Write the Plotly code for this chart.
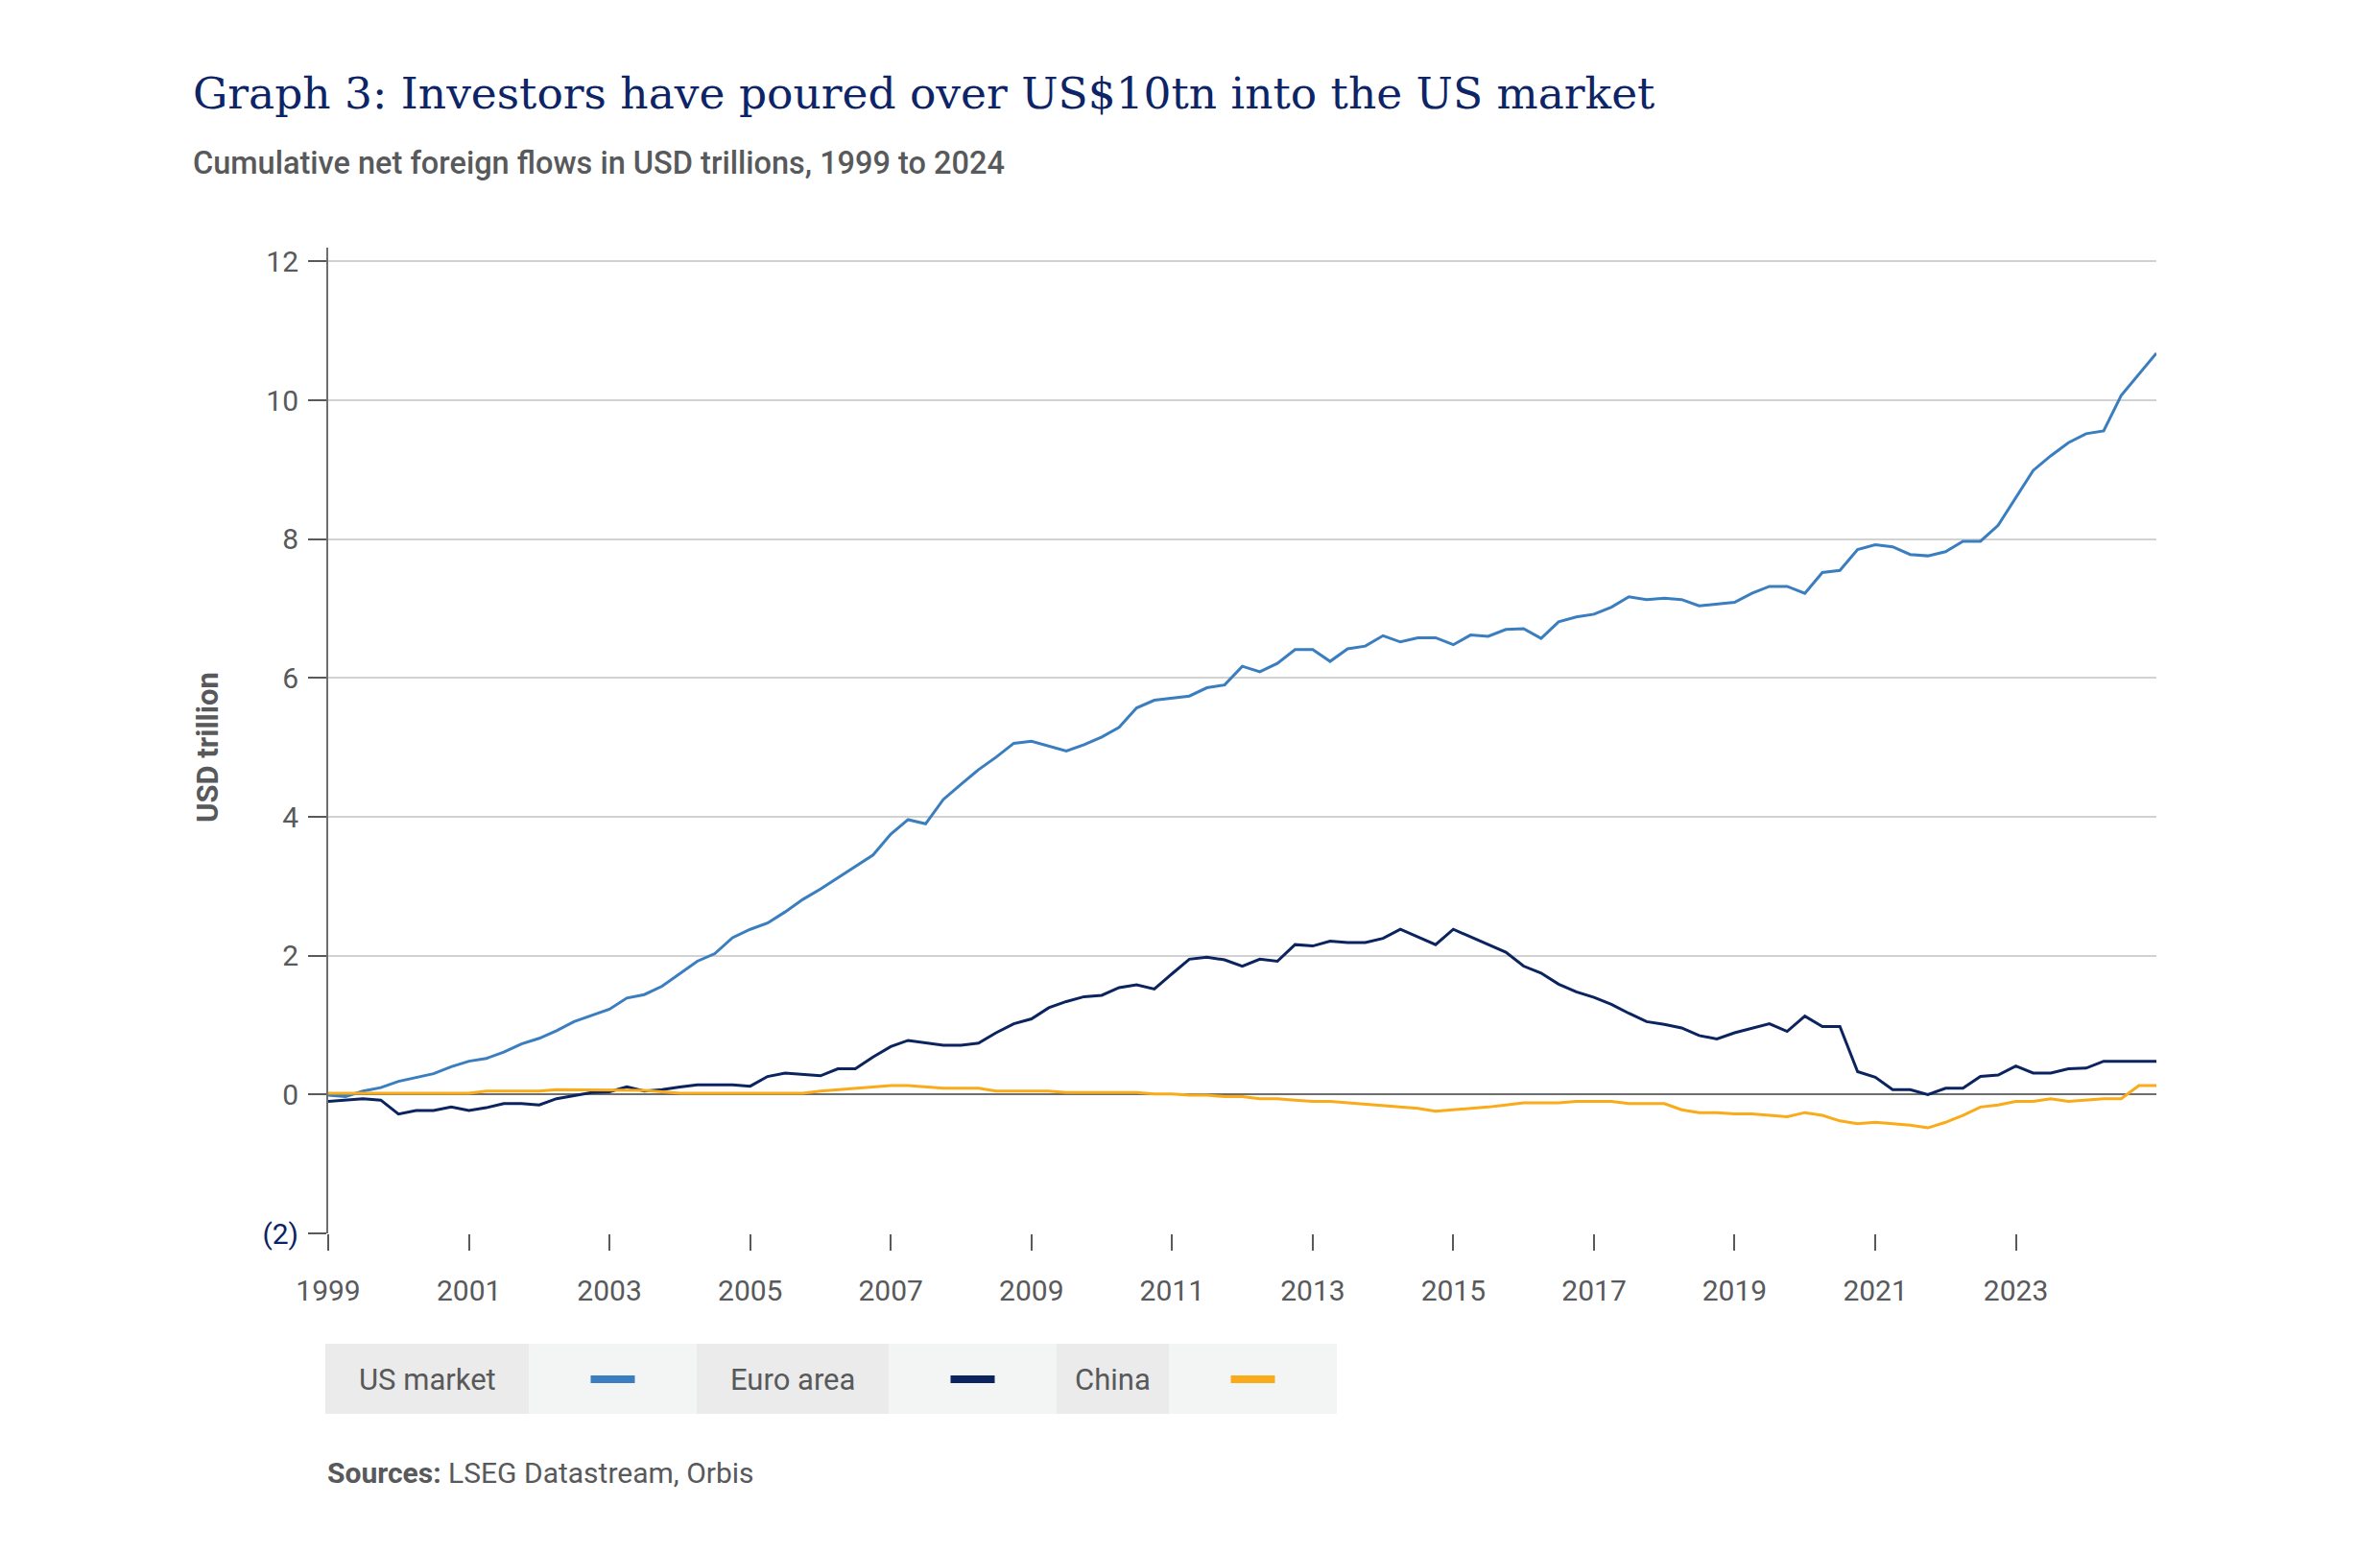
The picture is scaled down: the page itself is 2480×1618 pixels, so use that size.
import pandas as pd
import plotly.graph_objects as go

# quarterly observations, last point is end of 2024
dates = list(pd.date_range("1999-01-01", periods=104, freq="QS")) + [pd.Timestamp("2024-12-31")]

us_market = [-0.01, -0.03, 0.05, 0.10, 0.19, 0.24, 0.30, 0.40, 0.48, 0.52,
             0.61, 0.73, 0.81, 0.92, 1.05, 1.14, 1.23, 1.39, 1.44, 1.56,
             1.74, 1.92, 2.03, 2.26, 2.38, 2.47, 2.63, 2.81, 2.96, 3.12,
             3.29, 3.45, 3.75, 3.96, 3.90, 4.25, 4.47, 4.68, 4.86, 5.06,
             5.09, 5.02, 4.95, 5.04, 5.15, 5.29, 5.57, 5.68, 5.71, 5.74,
             5.86, 5.90, 6.17, 6.09, 6.21, 6.41, 6.41, 6.24, 6.42, 6.46,
             6.61, 6.52, 6.58, 6.58, 6.48, 6.62, 6.60, 6.70, 6.71, 6.57,
             6.81, 6.88, 6.92, 7.02, 7.17, 7.13, 7.15, 7.13, 7.04, 7.06,
             7.09, 7.22, 7.32, 7.32, 7.22, 7.52, 7.55, 7.85, 7.92, 7.89,
             7.78, 7.76, 7.82, 7.97, 7.97, 8.20, 8.59, 8.99, 9.20, 9.39,
             9.52, 9.56, 10.07, 10.37, 10.68]

euro_area = [-0.10, -0.08, -0.06, -0.08, -0.28, -0.23, -0.23, -0.18, -0.23, -0.19,
             -0.13, -0.13, -0.15, -0.06, -0.01, 0.03, 0.04, 0.11, 0.05, 0.07,
             0.11, 0.14, 0.14, 0.14, 0.12, 0.26, 0.31, 0.29, 0.27, 0.37,
             0.37, 0.54, 0.69, 0.78, 0.75, 0.71, 0.71, 0.74, 0.89, 1.02,
             1.09, 1.25, 1.34, 1.41, 1.43, 1.54, 1.58, 1.52, 1.74, 1.95,
             1.98, 1.94, 1.85, 1.95, 1.92, 2.16, 2.14, 2.21, 2.19, 2.19,
             2.25, 2.38, 2.27, 2.16, 2.38, 2.27, 2.16, 2.05, 1.85, 1.75,
             1.59, 1.48, 1.40, 1.30, 1.17, 1.05, 1.01, 0.96, 0.85, 0.80,
             0.89, 0.95, 1.02, 0.91, 1.13, 0.98, 0.98, 0.33, 0.25, 0.07,
             0.07, 0.00, 0.09, 0.09, 0.26, 0.28, 0.41, 0.31, 0.31, 0.37,
             0.38, 0.48, 0.48, 0.48, 0.48]

china = [0.02, 0.02, 0.02, 0.02, 0.02, 0.02, 0.02, 0.02, 0.02, 0.05,
         0.05, 0.05, 0.05, 0.07, 0.07, 0.07, 0.07, 0.07, 0.06, 0.04,
         0.02, 0.02, 0.02, 0.02, 0.02, 0.02, 0.02, 0.02, 0.05, 0.07,
         0.09, 0.11, 0.13, 0.13, 0.11, 0.09, 0.09, 0.09, 0.05, 0.05,
         0.05, 0.05, 0.03, 0.03, 0.03, 0.03, 0.03, 0.01, 0.01, -0.01,
         -0.01, -0.03, -0.03, -0.06, -0.06, -0.08, -0.10, -0.10, -0.12, -0.14,
         -0.16, -0.18, -0.20, -0.24, -0.22, -0.19, -0.18, -0.15, -0.12, -0.12,
         -0.12, -0.10, -0.10, -0.10, -0.13, -0.13, -0.13, -0.22, -0.26, -0.26,
         -0.28, -0.28, -0.30, -0.32, -0.26, -0.30, -0.38, -0.42, -0.40, -0.42,
         -0.44, -0.48, -0.40, -0.30, -0.18, -0.15, -0.10, -0.10, -0.06, -0.10,
         -0.08, -0.06, -0.06, 0.13, 0.13]

series_names = ["US market", "Euro area", "China"]
series_colors = ["#3a7ebf", "#0b2460", "#f9ab1a"]

x_tick_years = list(range(1999, 2024, 2))
y_tick_vals = [-2, 0, 2, 4, 6, 8, 10, 12]
y_tick_text = ['<span style="color:#0b2265">(2)</span>', "0", "2", "4", "6", "8", "10", "12"]

W, H = 2480, 1618
L, R, T, B = 334, 2239, 250, 1277
GRAY = "#58595b"
FONT = "Roboto"


def fx(px):
    return (px - L) / (R - L)


def fy(py):
    return (B - py) / (B - T)


fig = go.Figure()
for name, vals, col in zip(series_names, [us_market, euro_area, china], series_colors):
    fig.add_trace(go.Scatter(x=dates, y=vals, name=name, mode="lines",
                             line=dict(color=col, width=3), showlegend=False))

fig.update_xaxes(type="date", range=["1999-01-01", "2024-12-31"],
                 tickvals=[pd.Timestamp(f"{y}-01-01") for y in x_tick_years],
                 ticktext=[str(y) for y in x_tick_years],
                 ticks="outside", ticklen=17, tickwidth=2, tickcolor=GRAY,
                 ticklabelstandoff=16,
                 showgrid=False, showline=False, zeroline=False,
                 tickfont=dict(family=FONT, size=30, color=GRAY))
fig.update_yaxes(range=[-2, 12.2], tickvals=y_tick_vals, ticktext=y_tick_text,
                 ticks="outside", ticklen=19, tickwidth=2, tickcolor=GRAY,
                 ticklabelstandoff=4,
                 showline=True, linecolor="#6d6e70", linewidth=2,
                 showgrid=True, gridcolor="#d2d2d2", gridwidth=2,
                 zeroline=True, zerolinecolor="#6d6e70", zerolinewidth=2,
                 tickfont=dict(family=FONT, size=30, color=GRAY))

ann = []
ann.append(dict(text="Graph 3: Investors have poured over US$10tn into the US market",
                x=fx(191), y=fy(90), xanchor="left", yanchor="middle",
                font=dict(family="DejaVu Serif", size=45.5, color="#0d2466")))
ann.append(dict(text="Cumulative net foreign flows in USD trillions, 1999 to 2024",
                x=fx(191), y=fy(162), xanchor="left", yanchor="middle",
                font=dict(family=FONT, size=32.5, color=GRAY, weight=500)))
ann.append(dict(text="<b>USD trillion</b>", x=fx(208), y=fy(771), textangle=-90,
                xanchor="center", yanchor="middle",
                font=dict(family=FONT, size=31, color=GRAY)))
ann.append(dict(text="<b>Sources:</b> LSEG Datastream, Orbis",
                x=fx(331), y=fy(1526), xanchor="left", yanchor="middle",
                font=dict(family=FONT, size=30, color=GRAY)))

# custom legend row: label cell then swatch cell
shapes = []
cells = [(331, 543, 718), (718, 918, 1093), (1093, 1210, 1385)]
for (x0, x1, x2), name, col in zip(cells, series_names, series_colors):
    shapes.append(dict(type="rect", xref="paper", yref="paper", x0=fx(x0), x1=fx(x1),
                       y0=fy(1465), y1=fy(1392), fillcolor="#ebebeb", line_width=0, layer="below"))
    shapes.append(dict(type="rect", xref="paper", yref="paper", x0=fx(x1), x1=fx(x2),
                       y0=fy(1465), y1=fy(1392), fillcolor="#f3f4f4", line_width=0, layer="below"))
    cx = (x1 + x2) / 2
    shapes.append(dict(type="rect", xref="paper", yref="paper", x0=fx(cx - 23), x1=fx(cx + 23),
                       y0=fy(1433), y1=fy(1425), fillcolor=col, line_width=0))
    ann.append(dict(text=name, x=fx((x0 + x1) / 2), y=fy(1429), xanchor="center", yanchor="middle",
                    font=dict(family=FONT, size=31, color=GRAY)))

for a in ann:
    a.update(xref="paper", yref="paper", showarrow=False)

fig.update_layout(width=W, height=H, plot_bgcolor="white", paper_bgcolor="white",
                  margin=dict(l=L, r=W - R, t=T, b=H - B, autoexpand=False),
                  annotations=ann, shapes=shapes)

fig.write_html("out.html")
